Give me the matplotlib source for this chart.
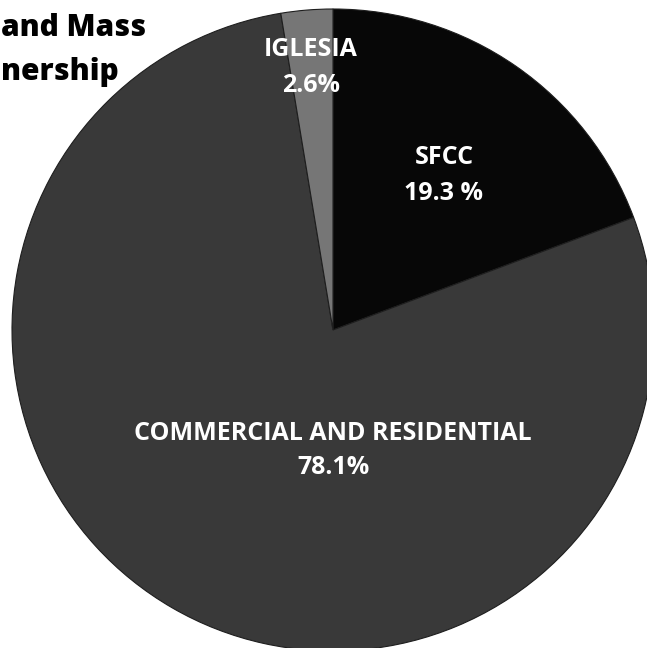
import matplotlib.pyplot as plt

# slices, clockwise from 12 o'clock
labels = ['SFCC', 'COMMERCIAL AND RESIDENTIAL', 'IGLESIA']
shares = [19.3, 78.1, 2.6]
share_text = ['19.3 %', '78.1%', '2.6%']
colors = ['#070707', '#393939', '#767676']

W, H = 647, 648
fig = plt.figure(figsize=(W / 100, H / 100), dpi=100)
ax = fig.add_axes([0, 0, 1, 1])

cx, cy, r = 333, H - 330, 321
ax.pie(shares, colors=colors, startangle=90, counterclock=False,
       center=(cx, cy), radius=r, frame=True,
       wedgeprops=dict(edgecolor='#1e1e1e', linewidth=0.8))
ax.set_xlim(0, W)
ax.set_ylim(0, H)
ax.set_aspect('equal')
ax.axis('off')

# label positions (pixel coords from the top)
label_pos = [(444, 158), (333, 433), (311, 50)]
for name, pct, (x, y) in zip(labels, share_text, label_pos):
    ax.text(x, H - y, name, color='white', fontsize=18, fontweight='bold',
            family='Open Sans', ha='center', va='center')
    ax.text(x, H - y - 35, pct, color='white', fontsize=18, fontweight='bold',
            family='Open Sans', ha='center', va='center')

# title, cut off at the left edge in the scan
ax.text(1, H - 28, 'and Mass', color='black', fontsize=21.5, fontweight='heavy',
        family='Open Sans', ha='left', va='center')
ax.text(1, H - 72, 'nership', color='black', fontsize=21.5, fontweight='heavy',
        family='Open Sans', ha='left', va='center')

fig.savefig('out.png', dpi=100, facecolor='white')
